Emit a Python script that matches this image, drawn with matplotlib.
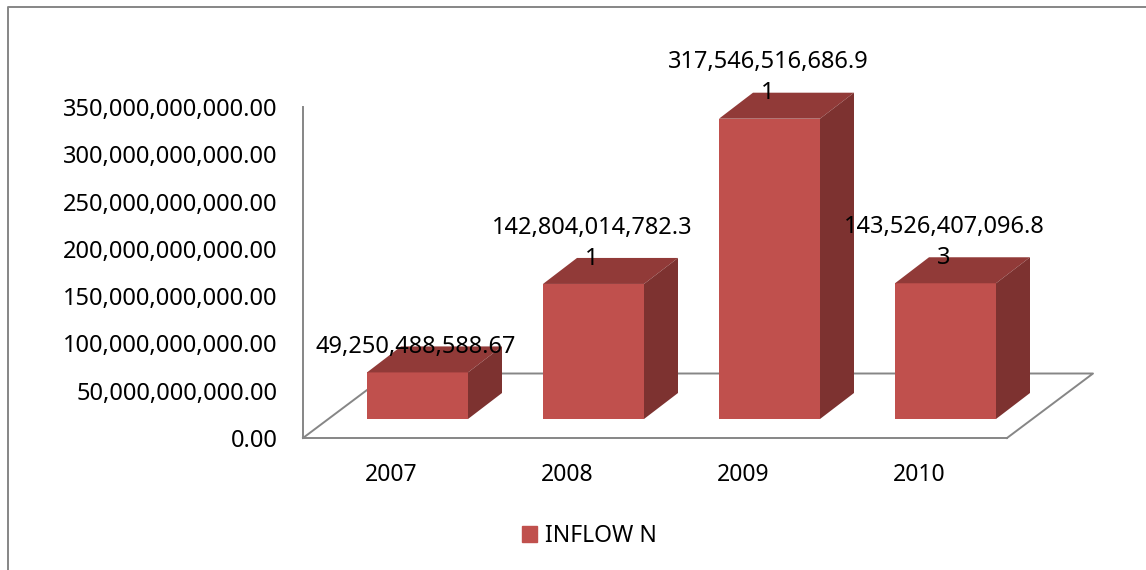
import numpy as np
import matplotlib
matplotlib.use('Agg')
import matplotlib.pyplot as plt
from matplotlib.patches import Patch, Polygon
from matplotlib.lines import Line2D

years = ['2007', '2008', '2009', '2010']
inflow = [49250488588.67, 142804014782.31, 317546516686.91, 143526407096.83]
y_ticks = [0, 50e9, 100e9, 150e9, 200e9, 250e9, 300e9, 350e9]
series_name = 'INFLOW N'

plt.rcParams['font.family'] = ['Noto Sans', 'DejaVu Sans']
FS = 17
GREY = '#868686'
FRONT = '#C0504D'
TOP = '#913A38'
SIDE = '#7D3230'

W, H = 1146, 570
fig = plt.figure(figsize=(W / 100, H / 100), dpi=100)
# plot area placed by pixel, same as the picture
ax = fig.add_axes([303 / W, 1 - 438 / H, 704 / W, 331 / H])
ax.set_xlim(0, 4)
ax.set_ylim(0, 350e9)

px_x = 4 / 704
px_y = 350e9 / 331

# outer frame, only top and left show
fig.add_artist(Line2D([8 / W, 8 / W, 1], [0, 1 - 7 / H, 1 - 7 / H], color=GREY, lw=1.4))

# floor of the 3d box
fx = 86 * px_x
fy = 64.5 * px_y
ax.plot([0, fx, 4 + fx, 4], [0, fy, fy, 0], color=GREY, lw=1.4, clip_on=False, zorder=1)

for s in ['top', 'right']:
    ax.spines[s].set_visible(False)
for s in ['left', 'bottom']:
    ax.spines[s].set_color(GREY)
    ax.spines[s].set_linewidth(1.4)

# bars with top and side faces
x = np.arange(len(years)) + 0.5
shift = 26.5 * px_x
bar_w = 101 * px_x
base = 19 * px_y
dx = 34 * px_x
dy = 26 * px_y
for xi, v in zip(x, inflow):
    l = xi + shift - bar_w / 2
    r = l + bar_w
    t = base + v
    ax.bar(xi + shift, v, width=bar_w, bottom=base, color=FRONT, zorder=3, clip_on=False)
    ax.add_patch(Polygon([(l, t), (r, t), (r + dx, t + dy), (l + dx, t + dy)],
                         closed=True, color=TOP, lw=0, zorder=3, clip_on=False))
    ax.add_patch(Polygon([(r, base), (r + dx, base + dy), (r + dx, t + dy), (r, t)],
                         closed=True, color=SIDE, lw=0, zorder=3, clip_on=False))
    # labels wrap at 17 characters
    s = format(v, ',.2f')
    if len(s) > 17:
        s = s[:17] + '\n' + s[17:]
    ax.annotate(s, (xi + shift, t), xytext=(-1, 9.5), textcoords='offset points',
                ha='center', va='bottom', fontsize=FS, color='black',
                linespacing=1.4, zorder=5, annotation_clip=False)

ax.set_xticks(x)
ax.set_xticklabels(years, fontsize=16.5)
ax.set_yticks(y_ticks)
ax.set_yticklabels([format(v, ',.2f') for v in y_ticks], fontsize=FS)
ax.tick_params(axis='x', length=0, pad=18)
ax.tick_params(axis='y', length=0, pad=18.5)

fig.legend(handles=[Patch(color=FRONT, label=series_name)], loc='center',
           bbox_to_anchor=(589 / W, 1 - 536 / H), frameon=False, fontsize=16.5,
           handlelength=0.65, handleheight=0.65, handletextpad=0.35)

fig.savefig('out.png', dpi=100)
